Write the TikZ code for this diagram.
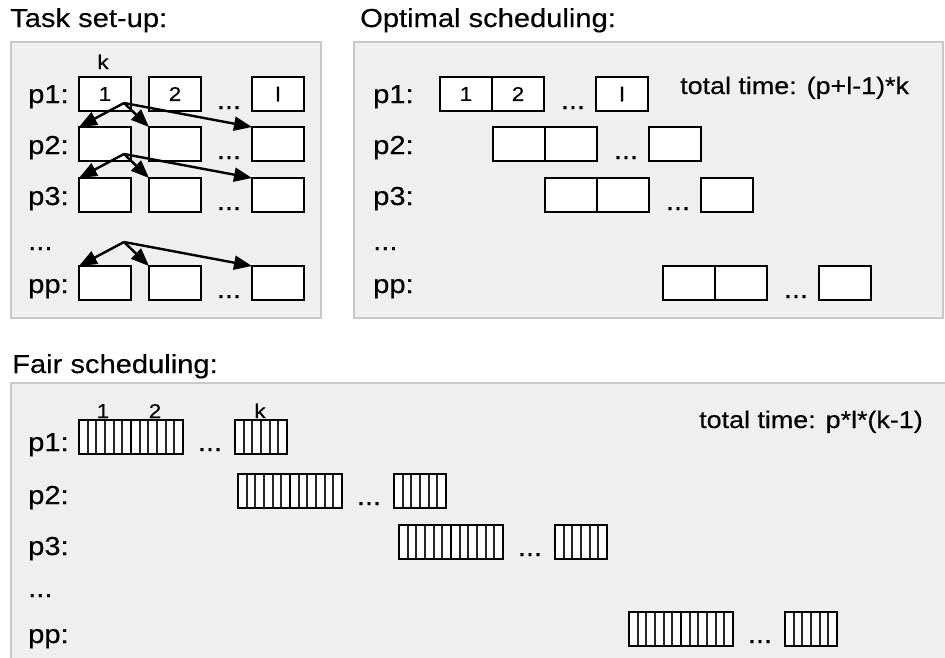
\documentclass[tikz,border=0pt]{standalone}
\usepackage{fontspec}
\setmainfont{Liberation Sans}[FakeStretch=1.12, FakeBold=0.35]
\usetikzlibrary{arrows.meta}
\definecolor{panelfill}{HTML}{EFEFEF}
\definecolor{panelline}{HTML}{C8C8C8}
\tikzset{
  panel/.style={fill=panelfill, draw=panelline, line width=1.5pt},
  heading/.style={anchor=base west, inner sep=0pt, font=\fontsize{26}{30}\selectfont},
  rowlabel/.style={anchor=base west, inner sep=0pt, font=\fontsize{26}{30}\selectfont},
  note/.style={anchor=base west, inner sep=0pt, font=\fontsize{24}{28}\selectfont},
  small/.style={anchor=base, inner sep=0pt, font=\fontsize{20}{23}\selectfont},
  gap/.style={anchor=base, inner sep=0pt, font=\fontsize{26}{30}\selectfont},
  task/.style={draw, line width=2.2pt, fill=white, minimum width=52pt, minimum height=34pt,
    inner sep=0pt, outer sep=0pt, anchor=north west, font=\fontsize{20}{24}\selectfont},
  slices/.style={task, path picture={
    \foreach \i in {1,...,5}{
      \draw[black!85, line width=2pt]
        ([xshift=\i*8.667pt]path picture bounding box.south west) --
        ([xshift=\i*8.667pt]path picture bounding box.north west);}}},
  dep/.style={line width=2.4pt, -{Triangle[length=18pt,width=14pt]}},
}
\begin{document}
\begin{tikzpicture}[x=1pt, y=-1pt]
\clip (0,0) rectangle (945,657);
\fill[white] (0,0) rectangle (945,657);

% ---------- task set-up ----------
\node[heading] (h1) at (10,27) {Task set-up:};
\draw[panel] (11,42) rectangle (321,318);
\node[small] (kk) at (103,69) {k};
\node[rowlabel] (a1) at (28,103) {p1:};
\node[rowlabel] (a2) at (28,154) {p2:};
\node[rowlabel] (a3) at (28,205) {p3:};
\node[rowlabel] (a4) at (28,250) {...};
\node[rowlabel] (a5) at (28,293) {pp:};
\foreach \r/\y/\ta/\tb/\tl in {1/77/1/2/l, 2/127/{}/{}/{}, 3/178/{}/{}/{}, 4/266/{}/{}/{}}{
  \node[task] (s\r a) at (79,\y) {\ta};
  \node[task] (s\r b) at (149,\y) {\tb};
  \node[task] (s\r l) at (252,\y) {\tl};
  \node[gap] (s\r d) at (229,\y+32) {...};
}
\coordinate (o1) at (124,103);
\coordinate (o2) at (124,154);
\coordinate (o3) at (124,242);
\foreach \o/\r in {o1/2, o2/3, o3/4}{
  \draw[dep] (\o) -- (s\r a.north west);
  \draw[dep] (\o) -- (s\r b.north west);
  \draw[dep] (\o) -- (s\r l.north west);
}

% ---------- optimal scheduling ----------
\node[heading] (h2) at (360,27) {Optimal scheduling:};
\draw[panel] (354,42) rectangle (943,318);
\node[note] (tt1) at (680,94) {total time: (p+l-1)*k};
\node[rowlabel] (b1) at (373,103) {p1:};
\node[rowlabel] (b2) at (373,154) {p2:};
\node[rowlabel] (b3) at (373,205) {p3:};
\node[rowlabel] (b4) at (373,250) {...};
\node[rowlabel] (b5) at (373,293) {pp:};
\foreach \r/\x/\y/\ta/\tb/\tl in {1/440/77/1/2/l, 2/493/127/{}/{}/{}, 3/545/178/{}/{}/{}, 4/663/266/{}/{}/{}}{
  \node[task] (q\r a) at (\x,\y) {\ta};
  \node[task] (q\r b) at (\x+52,\y) {\tb};
  \node[gap] (q\r d) at (\x+133,\y+32) {...};
  \node[task] (q\r l) at (\x+156,\y) {\tl};
}

% ---------- fair scheduling ----------
\node[heading] (h3) at (12,373) {Fair scheduling:};
\draw[panel] (11,383) rectangle (970,690);
\node[note] (tt2) at (699,428) {total time: p*l*(k-1)};
\node[rowlabel] (c1) at (28,451) {p1:};
\node[rowlabel] (c2) at (28,504) {p2:};
\node[rowlabel] (c3) at (28,555) {p3:};
\node[rowlabel] (c4) at (28,597) {...};
\node[rowlabel] (c5) at (28,643) {pp:};
\foreach \r/\x/\y in {1/79/420, 2/238/474, 3/399/525, 4/629/612}{
  \node[slices] (f\r a) at (\x,\y) {};
  \node[slices] (f\r b) at (\x+52,\y) {};
  \node[gap] (f\r d) at (\x+131,\y+31) {...};
  \node[slices] (f\r k) at (\x+156,\y) {};
}
\node[small] (n1) at (103,418) {1};
\node[small] (n2) at (155,418) {2};
\node[small] (nk) at (260,418) {k};
\end{tikzpicture}
\end{document}
